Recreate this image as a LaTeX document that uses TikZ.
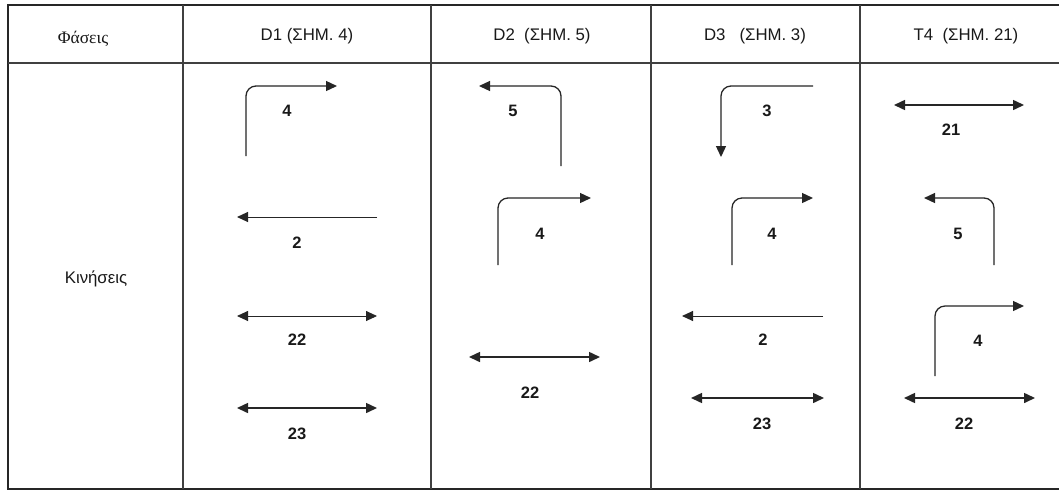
\documentclass[tikz,border=0pt]{standalone}
\usepackage{fontspec}
\setmainfont{Liberation Sans}
\newfontfamily\grserif{Liberation Serif}
\usetikzlibrary{arrows.meta}
\begin{document}
\begin{tikzpicture}[x=1pt,y=-1pt,
  frame/.style={line width=2pt, black!85},
  grid/.style={line width=1.2pt, black!75},
  tipT/.tip={Triangle[length=11pt,width=10pt]},
  mv/.style={line width=1.3pt, black!85, rounded corners=10pt, -tipT},
  mvthin/.style={line width=1pt, black!85, -tipT},
  both/.style={line width=1.5pt, black!85, tipT-tipT},
  boththin/.style={line width=0.9pt, black!85, tipT-tipT},
  lbl/.style={font=\bfseries\fontsize{16.5}{19}\selectfont, inner sep=0pt, text=black!90},
  head/.style={font=\fontsize{16.8}{19}\selectfont, inner sep=0pt, text=black!90}
]
\useasboundingbox (0,0) rectangle (1059,491);
\fill[white] (0,0) rectangle (1059,491);
% table
\draw[frame] (1059,5) -- (8,5) -- (8,489) -- (1059,489);
\draw[grid] (8,63) -- (1059,63);
\draw[grid] (183,5) -- (183,489);
\draw[grid] (431,5) -- (431,489);
\draw[grid] (651,5) -- (651,489);
\draw[grid] (860,5) -- (860,489);
% headers
\node[head, font=\grserif\fontsize{17.5}{20}\selectfont] (hphase) at (83,39) {Φάσεις};
\node[head] (hd1) at (307,36) {D1 (ΣΗΜ. 4)};
\node[head] (hd2) at (542,36) {D2\ \ (ΣΗΜ. 5)};
\node[head] (hd3) at (755,36) {D3\ \ \ (ΣΗΜ. 3)};
\node[head] (ht4) at (966,36) {T4\ \ (ΣΗΜ. 21)};
\node[head] (kin) at (96,279) {Κινήσεις};
% D1
\draw[mv] (246,156) -- (246,86) -- (337,86);
\node[lbl] (a1) at (287,111) {4};
\draw[mvthin] (377,217) -- (237,217);
\node[lbl] (a2) at (297,243) {2};
\draw[boththin] (237,316) -- (377,316);
\node[lbl] (a3) at (297,340) {22};
\draw[both] (237,408) -- (377,408);
\node[lbl] (a4) at (297,434) {23};
% D2
\draw[mv] (561,166) -- (561,86) -- (479,86);
\node[lbl] (b1) at (513,111) {5};
\draw[mv] (498,265) -- (498,198) -- (591,198);
\node[lbl] (b2) at (540,234) {4};
\draw[both] (469,357) -- (600,357);
\node[lbl] (b3) at (530,393) {22};
% D3
\draw[mv] (813,86) -- (721,86) -- (721,157);
\node[lbl] (c1) at (767,111) {3};
\draw[mv] (732,265) -- (732,198) -- (813,198);
\node[lbl] (c2) at (772,234) {4};
\draw[mvthin] (823,316) -- (682,316);
\node[lbl] (c3) at (763,340) {2};
\draw[both] (691,398) -- (824,398);
\node[lbl] (c4) at (762,424) {23};
% T4
\draw[both] (894,105) -- (1024,105);
\node[lbl] (d1) at (951,130) {21};
\draw[mv] (994,265) -- (994,198) -- (924,198);
\node[lbl] (d2) at (958,234) {5};
\draw[mv] (935,376) -- (935,306) -- (1024,306);
\node[lbl] (d3) at (978,341) {4};
\draw[both] (904,398) -- (1035,398);
\node[lbl] (d4) at (964,424) {22};
\end{tikzpicture}
\end{document}
